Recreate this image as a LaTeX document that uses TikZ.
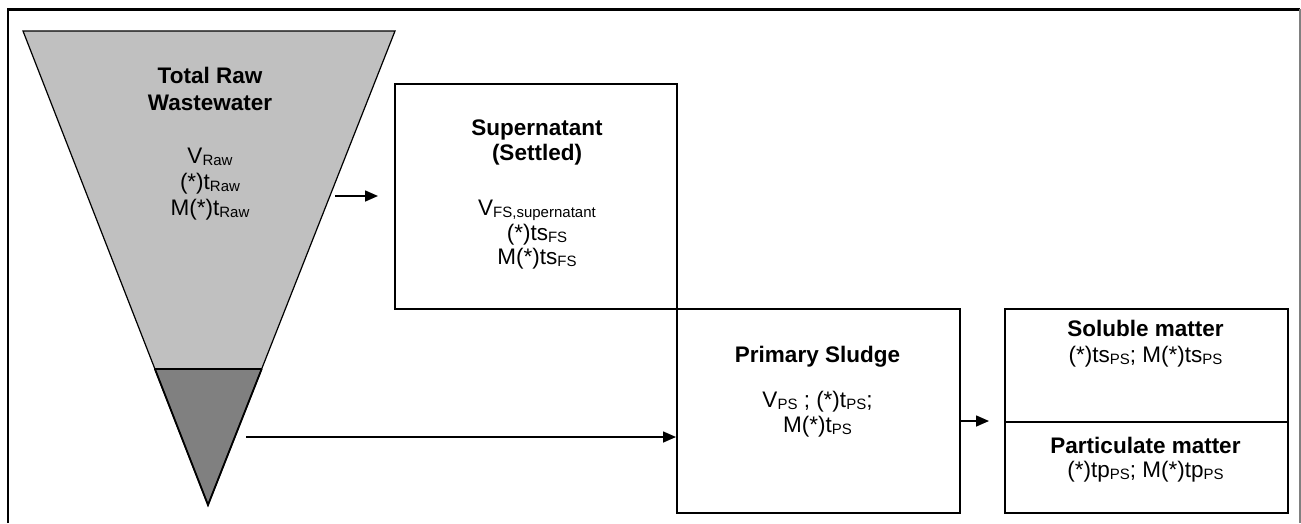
\documentclass[tikz,border=0pt]{standalone}
\usepackage{fontspec}
\setmainfont{Liberation Sans}
\usetikzlibrary{arrows.meta,calc}
\newcommand{\sbs}[1]{\raisebox{-0.13em}{\fontsize{15}{16}\selectfont #1}}
\definecolor{tlight}{HTML}{C0C0C0}
\definecolor{tdark}{HTML}{808080}
\begin{document}
\begin{tikzpicture}[x=1pt,y=-1pt,
  box/.style={draw,line width=1.6pt,inner sep=0pt,anchor=north west},
  lbl/.style={anchor=base,inner sep=0pt,font=\fontsize{22.5}{25}\selectfont},
  ttl/.style={anchor=base,inner sep=0pt,font=\fontsize{22.5}{25}\selectfont\bfseries},
  arr/.style={line width=1.6pt,-{Triangle[length=13pt,width=11pt]}}]
\useasboundingbox (0,0) rectangle (1301,523);
% frame
\draw[line width=2pt] (8,523) -- (8,9);
\draw[line width=3pt] (7,9) -- (1300,9);
\draw[gray,line width=1.2pt] (1300,9) -- (1300,523);
% funnel
\coordinate (A) at (23,31);
\coordinate (B) at (395,31);
\coordinate (C) at (208,505);
\coordinate (D) at ($(A)!0.713!(C)$);
\coordinate (E) at ($(B)!0.713!(C)$);
\fill[tlight] (A) -- (B) -- (C) -- cycle;
\fill[tdark] (D) -- (E) -- (C) -- cycle;
\draw[line width=1.2pt,line join=miter] (A) -- (B) -- (C) -- cycle;
\draw[line width=1.6pt] (D) -- (E);
\draw[line width=1.8pt] (D) -- (C) -- (E);
\node[ttl] (t1) at (210,83) {Total Raw};
\node[ttl] (t2) at (210,110) {Wastewater};
\node[lbl] (t3) at (210,163) {V\sbs{Raw}};
\node[lbl] (t4) at (210,189) {(*)t\sbs{Raw}};
\node[lbl] (t5) at (210,215) {M(*)t\sbs{Raw}};
% boxes
\node[box,minimum width=282pt,minimum height=225pt] (sup) at (394,83) {};
\node[box,minimum width=283pt,minimum height=204pt] (ps) at (676,308) {};
\node[box,minimum width=283pt,minimum height=113pt] (sol) at (1004,308) {};
\node[box,minimum width=283pt,minimum height=91pt] (par) at (1004,421) {};
% supernatant text
\node[ttl] (s1) at (537,135) {Supernatant};
\node[ttl] (s2) at (537,160) {(Settled)};
\node[lbl] (s3) at (537,215) {V\sbs{FS,supernatant}};
\node[lbl] (s4) at (537,240) {(*)ts\sbs{FS}};
\node[lbl] (s5) at (537,264) {M(*)ts\sbs{FS}};
% primary sludge text
\node[ttl] (p1) at (817.5,362) {Primary Sludge};
\node[lbl] (p2) at (817.5,407) {V\sbs{PS} ; (*)t\sbs{PS};};
\node[lbl] (p3) at (817.5,432) {M(*)t\sbs{PS}};
% right box text
\node[ttl] (r1) at (1145.5,336) {Soluble matter};
\node[lbl] (r2) at (1145.5,362) {(*)ts\sbs{PS}; M(*)ts\sbs{PS}};
\node[ttl] (r3) at (1145.5,453) {Particulate matter};
\node[lbl] (r4) at (1145.5,477) {(*)tp\sbs{PS}; M(*)tp\sbs{PS}};
% arrows
\coordinate (a1s) at (335,196);
\coordinate (a2s) at (246,437);
\coordinate (a3s) at (959,421);
\draw[arr,shorten >=16pt] (a1s) -- (a1s -| sup.west);
\draw[arr] (a2s) -- (a2s -| ps.west);
\draw[arr,shorten >=15pt] (a3s) -- (a3s -| sol.west);
\end{tikzpicture}
\end{document}
